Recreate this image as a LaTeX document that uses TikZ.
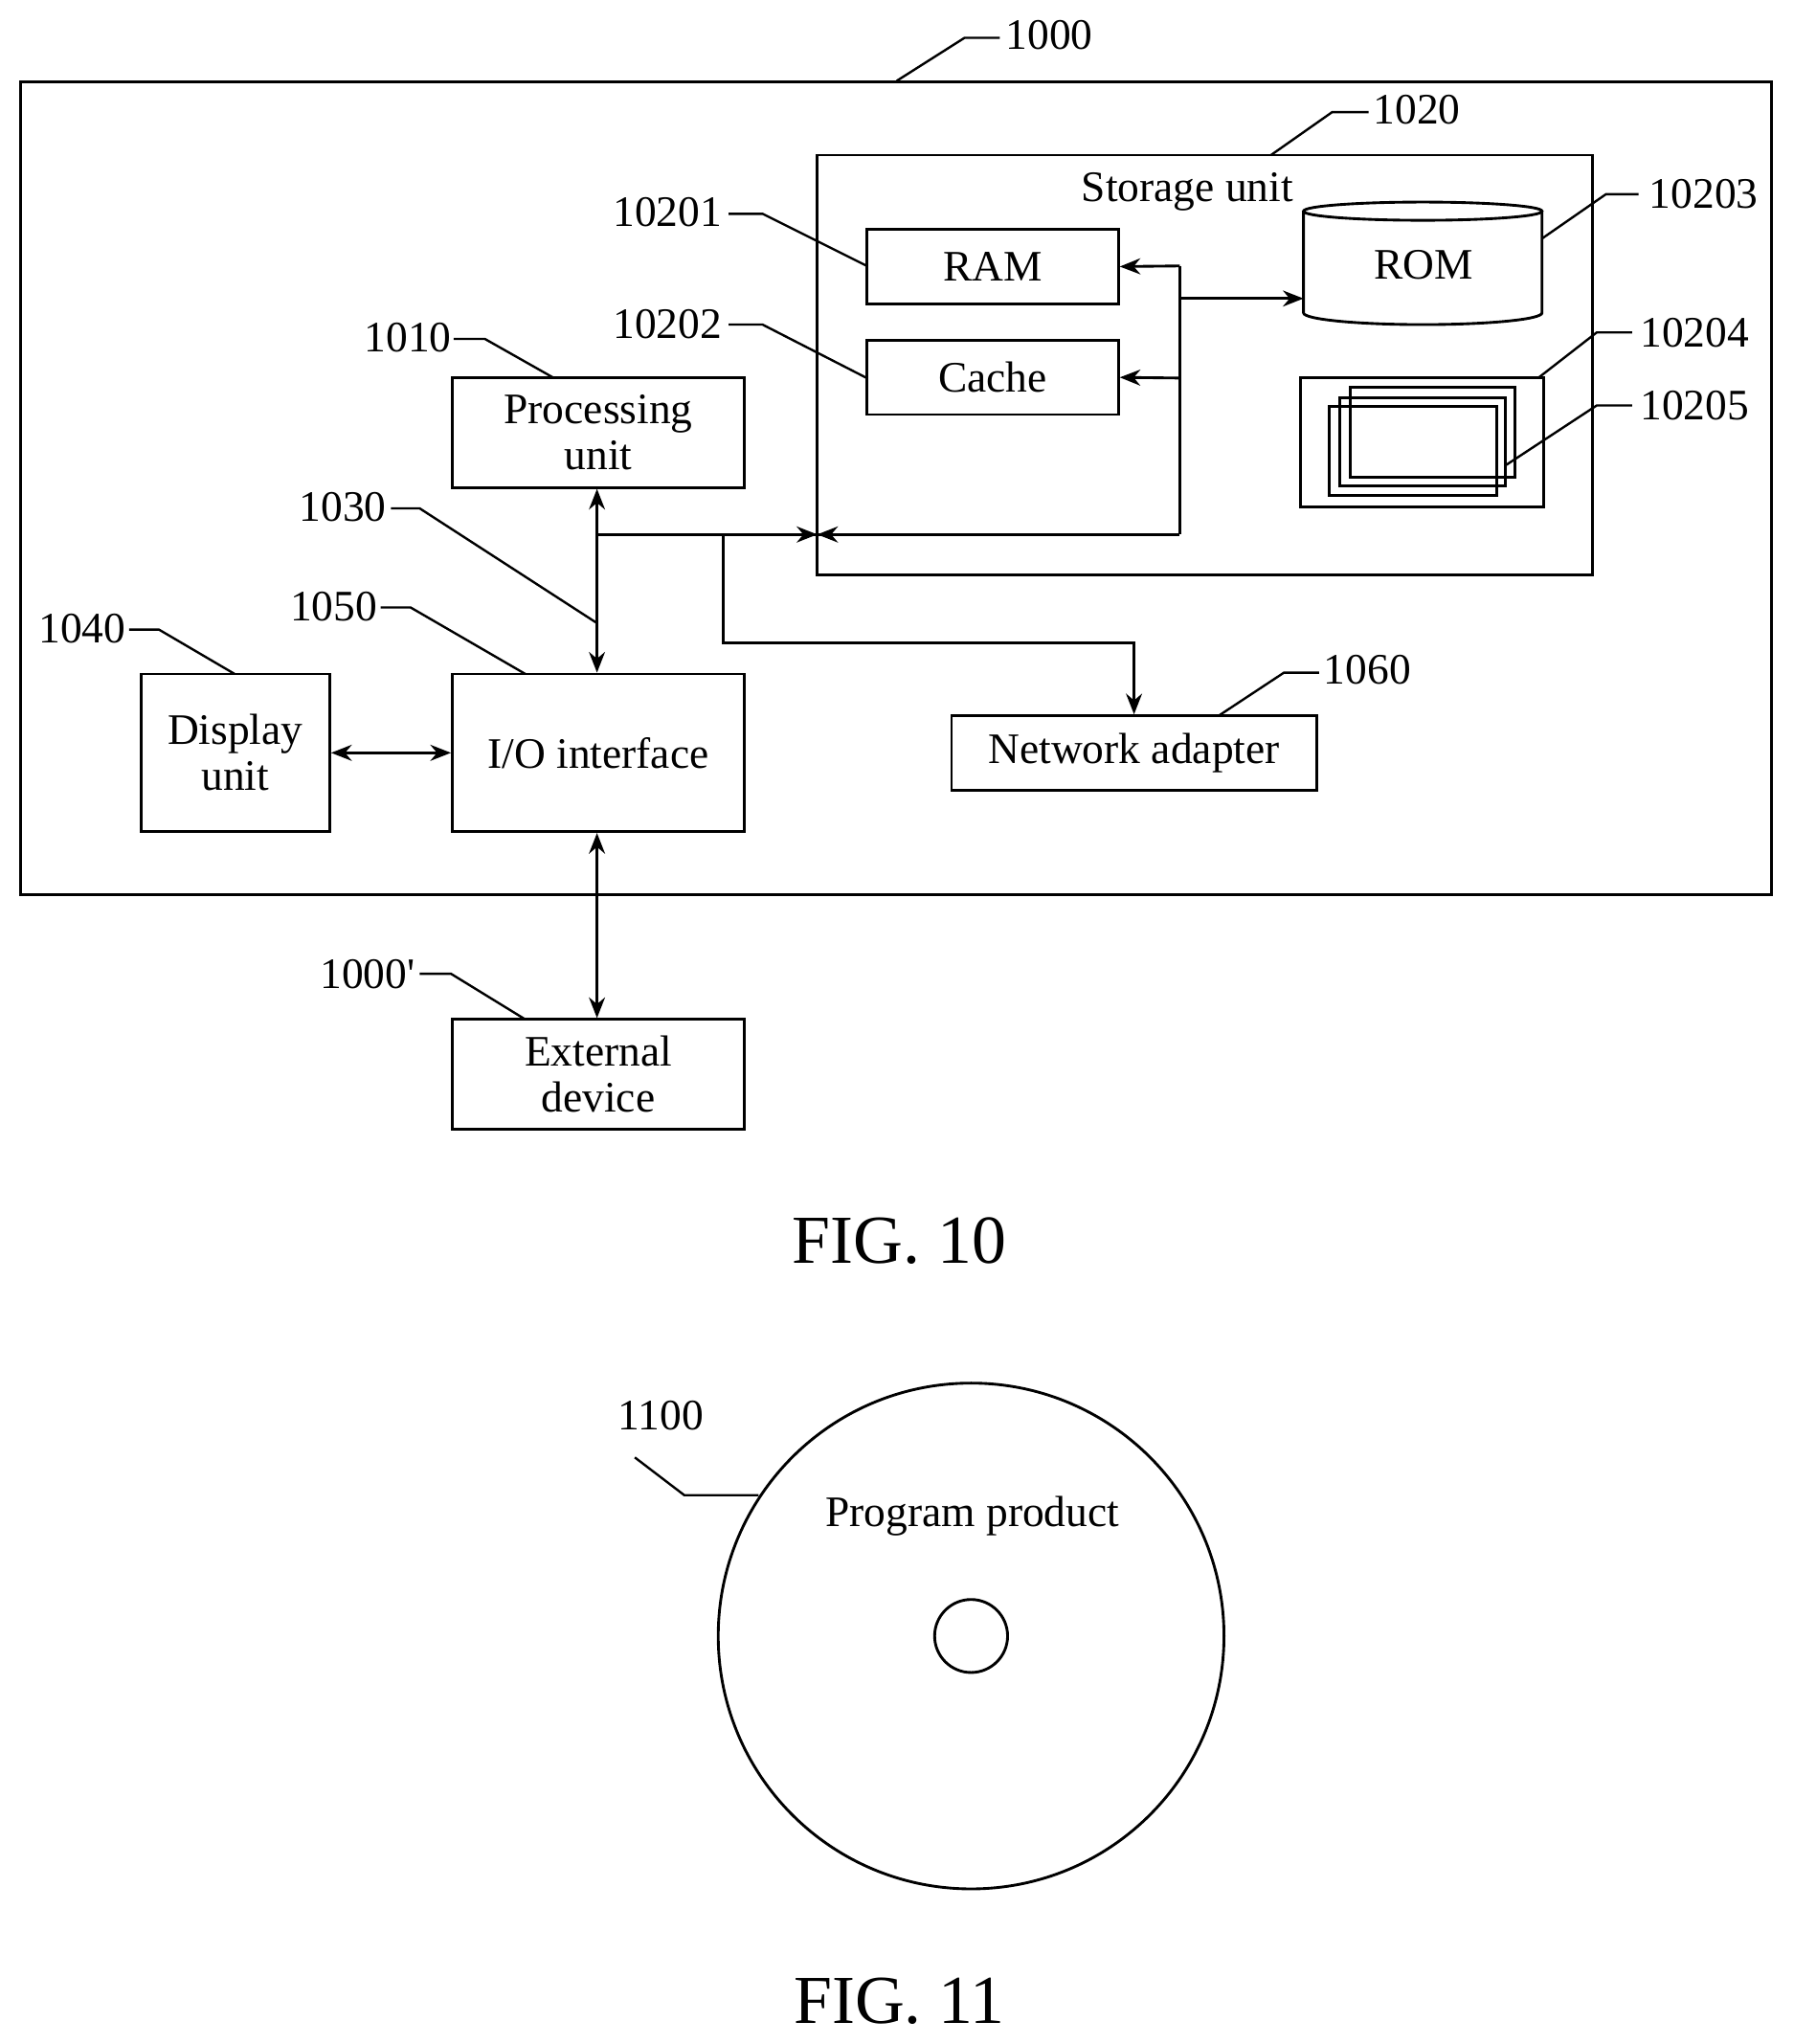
\documentclass[tikz,border=0pt]{standalone}
\usepackage{fontspec}
\setmainfont{Liberation Serif}
\newfontfamily\plainserif{Liberation Serif}
\usetikzlibrary{arrows.meta}
\begin{document}
\begin{tikzpicture}[x=0.02cm,y=-0.02cm,line width=1.2pt,
  every node/.style={font=\fontsize{19}{21}\selectfont},
  box/.style={draw,inner sep=0},
  lbl/.style={font=\fontsize{19}{21}\selectfont},
  arr/.style={-{Stealth[length=9pt,width=7pt]}},
  darr/.style={{Stealth[length=9pt,width=7pt]}-{Stealth[length=9pt,width=7pt]}},
  lead/.style={line width=1pt}]
\useasboundingbox (0,0) rectangle (1376,1568);
% outer
\draw (16,63) rectangle (1359,686);
\node[lbl] (l1000) at (805,27) {1000};
\draw[lead] (688,62) -- (740,29) -- (767,29);
% storage
\draw (627,119) rectangle (1222,441);
\node (st) at (911,147) {Storage unit};
\node[lbl] (l1020) at (1087,84) {1020};
\draw[lead] (975,119) -- (1022,86) -- (1050,86);
\node[box,minimum width=3.86cm,minimum height=1.14cm] (ram) at (761.5,204.5) {RAM};
\node[box,minimum width=3.86cm,minimum height=1.14cm] (cache) at (761.5,289.5) {Cache};
\node[lbl] (l10201) at (512,163) {10201};
\draw[lead] (559,164) -- (585,164) -- (665,204);
\node[lbl] (l10202) at (512,249) {10202};
\draw[lead] (559,249) -- (585,249) -- (665,290);
% ROM cylinder
\draw (1000,162) -- (1000,240) arc[start angle=180,end angle=360,x radius=91.5,y radius=-9] -- (1183,162);
\draw (1091.5,162) ellipse[x radius=91.5,y radius=7];
\node (rom) at (1092,203) {ROM};
\node[lbl] (l10203) at (1307,149) {10203};
\draw[lead] (1257,149) -- (1232,149) -- (1183,183);
% 10204
\draw (998,290) rectangle (1184,389);
\draw (1036,297) rectangle (1162,366);
\draw (1028,305) rectangle (1155,373);
\draw (1020,312) rectangle (1148,380);
\node[lbl] (l10204) at (1300,255) {10204};
\draw[lead] (1252,255) -- (1225,255) -- (1180,290);
\node[lbl] (l10205) at (1300,311) {10205};
\draw[lead] (1252,311) -- (1225,311) -- (1155,357);
% bus
\coordinate (b1) at (905,410);
\draw (905,204) -- (b1);
\draw[arr] (905,204) -- (ram.east);
\draw[arr] (905,290) -- (cache.east);
\draw[arr] (905,229) -- (1000,229);
\draw (458,410) -- (b1);
\draw[arr] (560,410) -- (627,410);
\draw[arr] (700,410) -- (627,410);
% processing
\node[box,minimum width=4.48cm,minimum height=1.68cm,align=center,font=\fontsize{19}{20}\selectfont] (pu) at (459,332) {Processing\\unit};
\node[lbl] (l1010) at (313,259) {1010};
\draw[lead] (348,260) -- (372,260) -- (425,290);
% io
\node[box,minimum width=4.48cm,minimum height=2.42cm] (io) at (459,577.5) {I/O interface};
\draw[darr] (pu.south -| 458,0) -- (io.north -| 458,0);
\node[lbl] (l1030) at (263,389) {1030};
\draw[lead] (300,390) -- (322,390) -- (458,478);
\node[lbl] (l1050) at (256,465) {1050};
\draw[lead] (292,466) -- (315,466) -- (403,517);
% display
\node[box,minimum width=2.9cm,minimum height=2.42cm,align=center,font=\fontsize{19}{20}\selectfont] (disp) at (180.5,577.5) {Display\\unit};
\node[lbl] (l1040) at (63,482) {1040};
\draw[lead] (99,483) -- (122,483) -- (180,517);
\draw[darr] (disp.east) -- (io.west);
% network
\node[box,minimum width=5.6cm,minimum height=1.14cm] (net) at (870,577.5) {Network adapter};
\draw[arr] (555,410) -- (555,493) -- (870,493) -- (net.north);
\node[lbl] (l1060) at (1049,514) {1060};
\draw[lead] (935,549) -- (985,516) -- (1012,516);
% external
\node[box,minimum width=4.48cm,minimum height=1.68cm,align=center,font=\fontsize{19}{20}\selectfont] (ext) at (459,824) {External\\device};
\draw[darr] (io.south -| 458,0) -- (ext.north -| 458,0);
\node[lbl] (l1000p) at (282,747) {1000{\plainserif '}};
\draw[lead] (322,747) -- (346,747) -- (403,782);
\node[font=\fontsize{30}{33}\selectfont] (f10) at (690,952) {FIG. 10};
% disc
\draw (745,1255) circle[radius=194];
\draw (745,1255) circle[radius=28];
\node (pp) at (746,1163) {Program product};
\node[lbl] (l1100) at (507,1086) {1100};
\draw[lead] (487,1118) -- (525,1147) -- (582,1147);
\node[font=\fontsize{30}{33}\selectfont] (f11) at (690,1535) {FIG. 11};
\end{tikzpicture}
\end{document}
